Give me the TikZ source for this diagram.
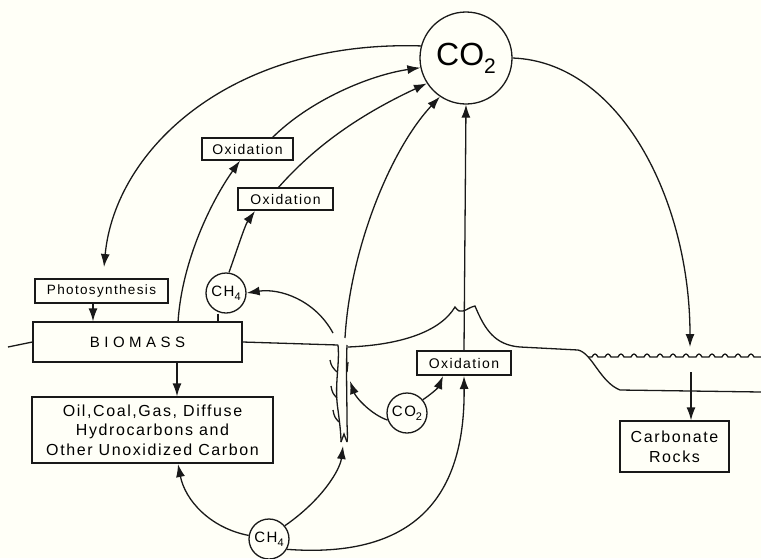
\documentclass[tikz,border=0pt]{standalone}
\usepackage{fontspec}
\setmainfont{Liberation Sans}
\newfontfamily\lab[LetterSpace=10]{Liberation Sans}
\newfontfamily\labw[LetterSpace=30]{Liberation Sans}
\usetikzlibrary{arrows.meta}
\begin{document}
\begin{tikzpicture}[x=1pt,y=-1pt,
  ink/.style={draw=black!90, line width=1.3pt},
  box/.style={ink, rectangle, inner sep=0pt, align=center, font=\lab\fontsize{14}{20}\selectfont},
  circ/.style={ink, circle, inner sep=0pt, font=\lab\fontsize{15}{16}\selectfont},
  arr/.style={ink, -{Latex[length=13pt,width=9pt]}},
  ln/.style={ink}]
\useasboundingbox[fill=white!97!yellow] (0,0) rectangle (761,558);

% nodes
\node[circ, minimum size=92pt, font=\fontsize{32}{34}\selectfont] (co2) at (466,58) {CO\raisebox{-8pt}{\fontsize{21}{21}\selectfont 2}};
\node[box, minimum width=91pt, minimum height=22pt] (ox1) at (247.5,149) {Oxidation};
\node[box, minimum width=95pt, minimum height=22pt] (ox2) at (285.5,199) {Oxidation};
\node[box, minimum width=133pt, minimum height=24pt, font=\lab\fontsize{13.5}{20}\selectfont] (photo) at (101.5,291) {Photosynthesis};
\node[circ, minimum size=40pt] (ch4a) at (226,293) {CH\raisebox{-4pt}{\fontsize{11}{11}\selectfont 4}};
\node[box, minimum width=209pt, minimum height=40pt, font=\labw\fontsize{15}{20}\selectfont] (bio) at (137.5,342) {BIOMASS};
\node[box, minimum width=241pt, minimum height=66pt, font=\lab\fontsize{16}{19.5}\selectfont] (oil) at (152.5,430) {Oil,Coal,Gas, Diffuse\\Hydrocarbons and\\Other Unoxidized Carbon};
\node[box, minimum width=94pt, minimum height=24pt] (ox3) at (464,363) {Oxidation};
\node[circ, minimum size=40pt] (co2s) at (407,413) {CO\raisebox{-4pt}{\fontsize{11}{11}\selectfont 2}};
\node[circ, minimum size=40pt] (ch4b) at (269,539) {CH\raisebox{-4pt}{\fontsize{11}{11}\selectfont 4}};
\node[box, minimum width=109pt, minimum height=51pt, font=\lab\fontsize{16}{20}\selectfont] (rocks) at (674.5,446.5) {Carbonate\\Rocks};

% free ends
\coordinate (phTop) at (104,267);
\coordinate (rootTop) at (345,338);
\coordinate (rootL) at (333,333);
\coordinate (rootMid) at (350,381);
\coordinate (rootBot) at (343,446);
\coordinate (seaTop) at (690,347);
\coordinate (seaBot) at (691,372);

% ground / surface
\draw[ln] (8,347) -- (bio.west);
\draw[ln] (bio.east) -- (338,345);
\draw[ln] (348,347) .. controls (400,345) and (440,332) .. (455,307)
  .. controls (458,311) and (460,312) .. (463,311) .. controls (467,310) and (470,307) .. (475,306)
  .. controls (485,330) and (495,345) .. (520,347) -- (578,350)
  .. controls (592,353) and (600,382) .. (620,390) -- (761,392);
% sea surface with small wavelets
\draw[ln] (588,357) foreach \i in {0,...,12} { -- ++(4,0) .. controls ++(2,-4) and ++(-2,-4) .. ++(6,0) -- ++(3,0)} -- (761,357);

% root channel
\draw[ln] (338,345) .. controls (340,365) and (334,385) .. (338,410) .. controls (340,425) and (341,435) .. (341,442);
\draw[ln] (347,345) .. controls (346,370) and (347,400) .. (347,420) .. controls (347,430) and (348,436) .. (347,442);
\draw[ln] (337,372) .. controls (333,368) and (331,366) .. (330,360);
\draw[ln] (337,398) .. controls (333,394) and (332,392) .. (331,386);
\draw[ln] (339,422) .. controls (335,418) and (334,416) .. (333,410);
\draw[ln] (347,372) -- (348,362);
\draw[ln] (341,442) -- (344,434) -- (347,442);

% arrows to CO2
\draw[arr] (co2.165) .. controls (230,40) and (115,150) .. (phTop);
\draw[arr] (178,322) .. controls (182,260) and (212,200) .. (ox1.south -| 240,0);
\draw[arr] (272,138) .. controls (310,100) and (370,75) .. (co2.192);
\draw[arr] (ch4a.north) ++(3,0) .. controls (237,250) and (245,225) .. (255,211);
\draw[arr] (278,188) .. controls (320,140) and (370,110) .. (co2.213);
\draw[arr] (rootTop) .. controls (350,250) and (390,150) .. (co2.236);
\draw[arr] (ox3.north) -- (co2.south);
\draw[arr] (co2.east) .. controls (620,62) and (690,200) .. (seaTop);
\draw[arr] (seaBot) -- (rocks.north -| seaBot);

% lower arrows
\draw[arr] (rootL) .. controls (315,300) and (280,288) .. (ch4a.east);
\draw[arr] (co2s.200) .. controls (372,415) and (356,398) .. (rootMid);
\draw[arr] (co2s.40) .. controls (430,395) and (438,388) .. (443,376);
\draw[arr] (ch4b.-30) .. controls (430,560) and (465,480) .. (464,376);
\draw[arr] (ch4b.40) .. controls (322,500) and (340,470) .. (rootBot);
\draw[arr] (ch4b.170) .. controls (210,528) and (185,500) .. (178,464);
\draw[arr] (photo.south -| 93,0) -- (bio.north -| 93,0);
\draw[arr] (bio.south -| 177,0) -- (oil.north -| 177,0);
\draw[ln] (ch4a.south -| 218,0) -- (bio.north -| 218,0);
\end{tikzpicture}
\end{document}
